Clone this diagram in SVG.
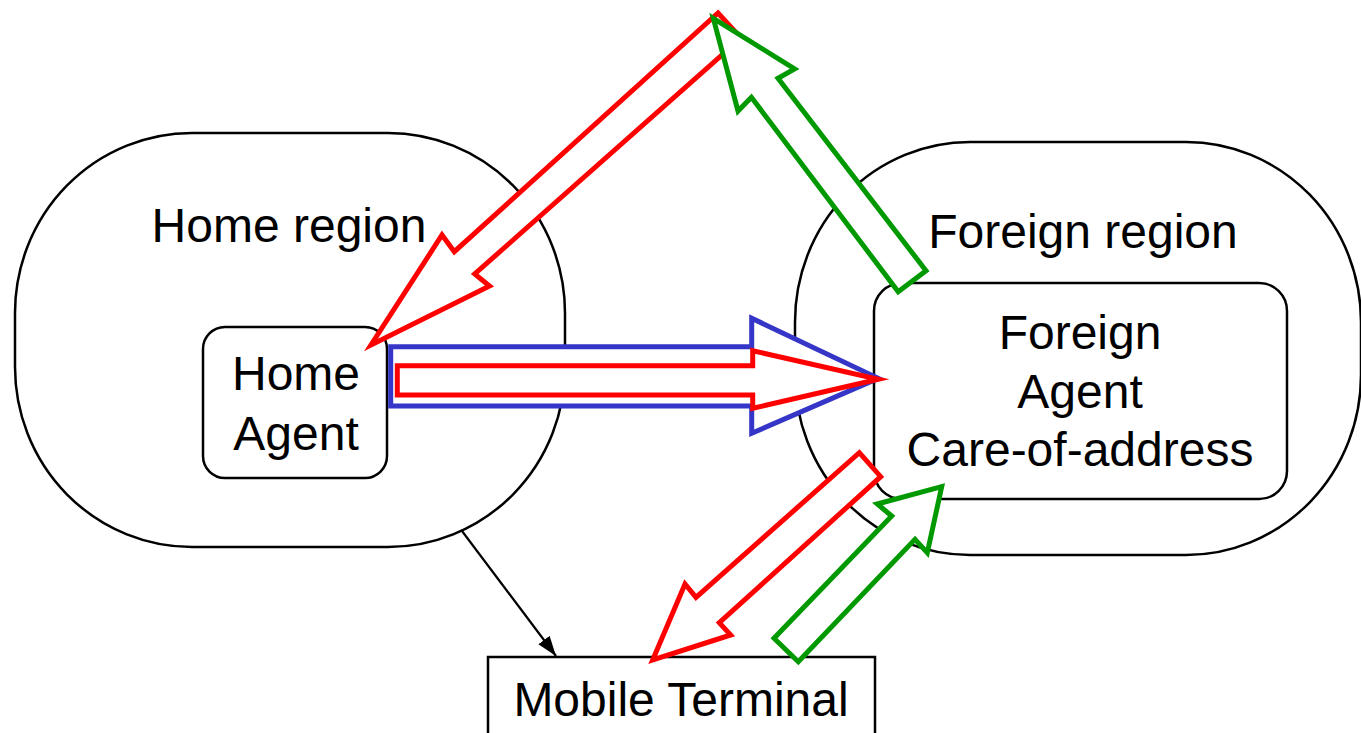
<svg xmlns="http://www.w3.org/2000/svg" width="1361" height="733" viewBox="0 0 1361 733">
<style>
.region{fill:#fff;stroke:#000;stroke-width:2.5}
.box{fill:#fff;stroke:#000;stroke-width:2.5}
.lbl{font-family:"Liberation Sans",Arial,sans-serif;font-size:48px;fill:#000;text-anchor:middle}
.fat{fill:#fff;stroke-width:5;stroke-linejoin:miter;stroke-miterlimit:12}
.red{stroke:#ff0000}
.green{stroke:#009900}
.blue{stroke:#3535c8}
.thin{fill:none;stroke:#000;stroke-width:2.2}
</style>
<defs>
<marker id="ah" markerUnits="userSpaceOnUse" markerWidth="22" markerHeight="16" refX="20" refY="7" orient="auto">
<path d="M0,0 L20,7 L0,14 z" fill="#000"/>
</marker>
</defs>
<rect width="1361" height="733" fill="#fff"/>
<g id="home-region">
<rect class="region" x="15" y="133" width="550" height="414" rx="177" ry="180"/>
<text class="lbl" x="289" y="242">Home region</text>
</g>
<g id="foreign-region">
<rect class="region" x="795" y="142" width="566" height="413" rx="175" ry="180"/>
<text class="lbl" x="1083" y="248">Foreign region</text>
</g>
<g id="home-agent">
<rect class="box" x="203" y="327" width="184" height="151" rx="22"/>
<text class="lbl" x="296" y="390">Home</text>
<text class="lbl" x="296" y="450">Agent</text>
</g>
<g id="foreign-agent">
<rect class="box" x="874" y="283" width="413" height="216" rx="28"/>
<text class="lbl" x="1080" y="349">Foreign</text>
<text class="lbl" x="1080" y="408">Agent</text>
<text class="lbl" x="1080" y="466">Care-of-address</text>
</g>
<g id="mobile-terminal">
<rect class="box" x="488" y="657" width="387" height="100"/>
<text class="lbl" x="681" y="716">Mobile Terminal</text>
</g>
<g id="connectors">
<path class="thin" d="M462,531 L556,656" marker-end="url(#ah)"/>
<polygon class="fat blue" points="390.7,346.7 751.7,346.7 751.7,318.3 878.3,378.3 751.7,433.3 751.7,406 390.7,406"/>
<polygon class="fat red" points="397.3,365.7 752.7,365.7 752.7,350.7 878.3,379.3 752.7,408.3 752.7,395 397.3,395"/>
<polygon class="fat red" points="718,13 741,38 474.7,274 489.5,286 371,345 442,235 454.3,251.7"/>
<polygon class="fat green" points="713.3,18.3 794.6,69 778,78.3 926,270.7 898.2,291.7 751.4,97.3 738,111"/>
<polygon class="fat red" points="859.3,452.7 880.7,476.7 719.3,622.7 730.7,635 652.7,660 685,584 696,597.3"/>
<polygon class="fat green" points="941.7,486.7 877.3,504 891.7,516 774,638.3 798.3,661.7 915,539.3 927.3,552.7"/>
</g>
</svg>
